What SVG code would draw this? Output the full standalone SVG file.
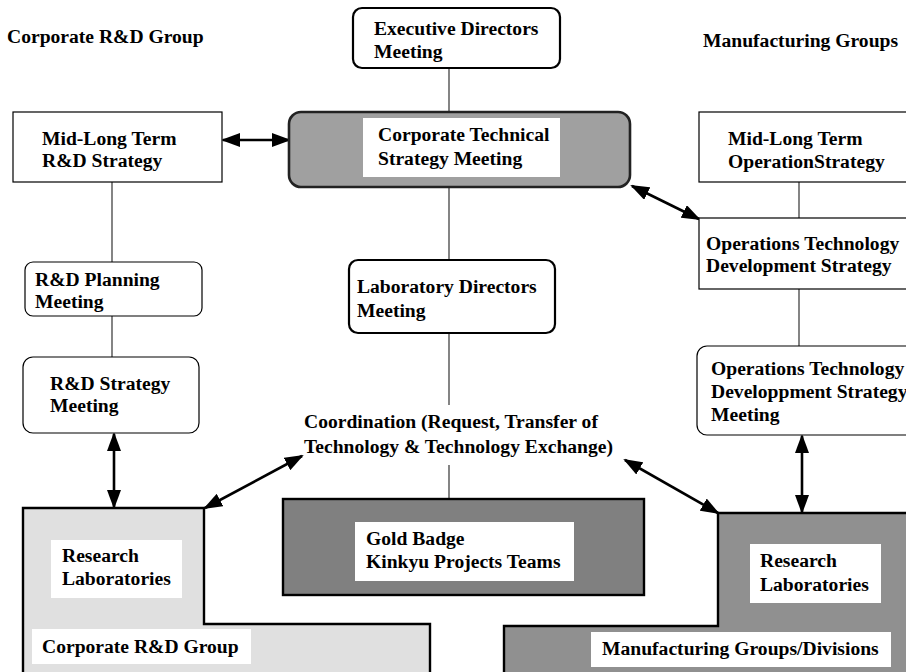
<svg xmlns="http://www.w3.org/2000/svg" width="906" height="672" viewBox="0 0 906 672">
  <defs>
    <style>
      text { font-family: "Liberation Serif", "Times New Roman", serif; font-weight: bold; font-size: 19.6px; fill: #000; }
      .plain { fill: #fff; stroke: #000; stroke-width: 1.2; }
      .meet { fill: #fff; stroke: #000; stroke-width: 1.2; }
      .meet-strong { fill: #fff; stroke: #000; stroke-width: 2.2; }
      .label-bg { fill: #fff; stroke: none; }
      .link { stroke: #333; stroke-width: 1.2; fill: none; }
      .arrow { stroke: #000; stroke-width: 2.6; fill: none; marker-start: url(#head); marker-end: url(#head); }
    </style>
    <marker id="head" viewBox="0 0 19 14" refX="17" refY="7" markerWidth="19" markerHeight="14" markerUnits="userSpaceOnUse" orient="auto-start-reverse">
      <path d="M0,0 L19,7 L0,14 z" fill="#000"/>
    </marker>
  </defs>

  <rect width="906" height="672" fill="#fff"/>

  <!-- column headings -->
  <text x="7" y="43">Corporate R&amp;D Group</text>
  <text x="703" y="47">Manufacturing Groups</text>

  <!-- connectors -->
  <g id="connectors">
    <line class="link" x1="449" y1="68" x2="449" y2="112"/>
    <line class="link" x1="449" y1="187" x2="449" y2="260"/>
    <line class="link" x1="449" y1="333" x2="449" y2="405"/>
    <line class="link" x1="449" y1="465" x2="449" y2="499"/>
    <line class="link" x1="112" y1="182" x2="112" y2="262"/>
    <line class="link" x1="112" y1="316" x2="112" y2="357"/>
    <line class="link" x1="799" y1="182" x2="799" y2="218"/>
    <line class="link" x1="799" y1="289" x2="799" y2="346"/>

    <line class="arrow" x1="223" y1="140" x2="289" y2="140"/>
    <line class="arrow" x1="632" y1="186" x2="699" y2="219"/>
    <line class="arrow" x1="114" y1="434" x2="114" y2="507"/>
    <line class="arrow" x1="802" y1="436" x2="802" y2="512"/>
    <line class="arrow" x1="205" y1="508" x2="302" y2="456"/>
    <line class="arrow" x1="625" y1="460" x2="718" y2="513"/>
  </g>

  <!-- lower organisation blocks -->
  <g id="corporate-rd-group">
    <path d="M23,508 L204,508 L204,624 L430,624 L430,690 L23,690 Z" fill="#e0e0e0" stroke="#000" stroke-width="2.4"/>
    <rect class="label-bg" x="51" y="540" width="131" height="58"/>
    <text x="62" y="562">Research</text>
    <text x="62" y="585">Laboratories</text>
    <rect class="label-bg" x="32" y="629" width="219" height="35"/>
    <text x="42" y="653">Corporate R&amp;D Group</text>
  </g>

  <g id="manufacturing-groups">
    <path d="M718,513 L920,513 L920,690 L504,690 L504,626 L718,626 Z" fill="#909090" stroke="#000" stroke-width="2.4"/>
    <rect class="label-bg" x="750" y="544" width="131" height="59"/>
    <text x="760" y="567">Research</text>
    <text x="760" y="591">Laboratories</text>
    <rect class="label-bg" x="591" y="632" width="300" height="35"/>
    <text x="602" y="655">Manufacturing Groups/Divisions</text>
  </g>

  <g id="gold-badge">
    <rect x="283" y="499" width="361" height="96" fill="#808080" stroke="#000" stroke-width="2.4"/>
    <rect class="label-bg" x="355" y="522" width="219" height="59"/>
    <text x="366" y="545">Gold Badge</text>
    <text x="366" y="568">Kinkyu Projects Teams</text>
  </g>

  <!-- centre column -->
  <g id="executive-directors">
    <rect class="meet-strong" x="353" y="8" width="207" height="60" rx="9"/>
    <text x="374" y="35">Executive Directors</text>
    <text x="374" y="58">Meeting</text>
  </g>

  <g id="corporate-technical-strategy">
    <rect x="289" y="112" width="341" height="75" rx="12" fill="#a0a0a0" stroke="#222" stroke-width="2.6"/>
    <rect class="label-bg" x="363" y="118" width="197" height="59"/>
    <text x="378" y="141">Corporate Technical</text>
    <text x="378" y="165">Strategy Meeting</text>
  </g>

  <g id="laboratory-directors">
    <rect class="meet-strong" x="349" y="260" width="206" height="73" rx="9"/>
    <text x="357" y="293">Laboratory Directors</text>
    <text x="357" y="317">Meeting</text>
  </g>

  <g id="coordination">
    <text x="304" y="428">Coordination (Request, Transfer of</text>
    <text x="304" y="453">Technology &amp; Technology Exchange)</text>
  </g>

  <!-- left column -->
  <g id="rd-strategy-mid-long">
    <rect class="plain" x="13" y="112" width="209" height="70"/>
    <text x="42" y="145">Mid-Long Term</text>
    <text x="42" y="167">R&amp;D Strategy</text>
  </g>

  <g id="rd-planning-meeting">
    <rect class="meet" x="25" y="262" width="177" height="54" rx="8"/>
    <text x="35" y="286">R&amp;D Planning</text>
    <text x="35" y="308">Meeting</text>
  </g>

  <g id="rd-strategy-meeting">
    <rect class="meet" x="23" y="357" width="176" height="76" rx="10"/>
    <text x="50" y="390">R&amp;D Strategy</text>
    <text x="50" y="412">Meeting</text>
  </g>

  <!-- right column -->
  <g id="operation-strategy-mid-long">
    <rect class="plain" x="699" y="112" width="220" height="70"/>
    <text x="728" y="145">Mid-Long Term</text>
    <text x="728" y="168">OperationStrategy</text>
  </g>

  <g id="ops-tech-dev-strategy">
    <rect class="plain" x="699" y="218" width="220" height="71"/>
    <text x="706" y="250">Operations Technology</text>
    <text x="706" y="272">Development Strategy</text>
  </g>

  <g id="ops-tech-dev-strategy-meeting">
    <rect class="meet" x="697" y="346" width="222" height="89" rx="10"/>
    <text x="711" y="375">Operations Technology</text>
    <text x="711" y="398">Developpment Strategy</text>
    <text x="711" y="421">Meeting</text>
  </g>
</svg>
